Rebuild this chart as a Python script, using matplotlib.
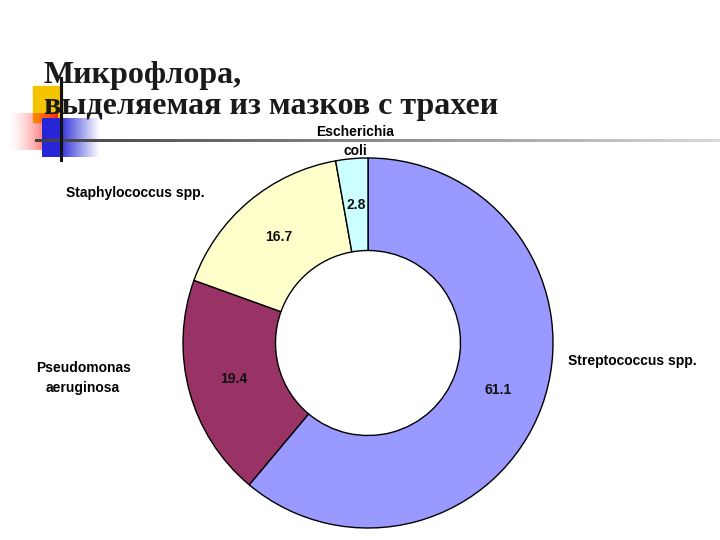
import numpy as np
import matplotlib.pyplot as plt

# chart data
names = ['Streptococcus spp.', 'Pseudomonas\naeruginosa', 'Staphylococcus spp.', 'Escherichia\ncoli']
values = [61.1, 19.4, 16.7, 2.8]
colors = ['#9999FF', '#993366', '#FFFFCC', '#CCFFFF']
title = 'Микрофлора,\nвыделяемая из мазков с трахеи'

W, H = 720, 540
fig = plt.figure(figsize=(7.2, 5.4), dpi=100)

# background axes in pixel coords for the slide decoration
bg = fig.add_axes([0, 0, 1, 1])
bg.set_xlim(0, W)
bg.set_ylim(H, 0)
bg.axis('off')

# yellow square
bg.add_patch(plt.Rectangle((33, 86), 29, 36, color='#F5C400', zorder=1))
# red gradient square (fades to the left)
red = np.ones((10, 64, 4))
red[..., 0] = 1.0
red[..., 1] = 0.1
red[..., 2] = 0.1
red[..., 3] = np.linspace(0, 0.95, 64)[None, :] ** 1.5
bg.imshow(red, extent=(8, 58, 150, 113), zorder=2, aspect='auto')
# blue gradient square (fades to the right)
blue = np.ones((10, 64, 4))
blue[..., 0] = 0.15
blue[..., 1] = 0.15
blue[..., 2] = 0.85
blue[..., 3] = np.clip(np.linspace(1.4, 0, 64), 0, 1)[None, :]
bg.imshow(blue, extent=(42, 100, 157, 118), zorder=3, aspect='auto')
# horizontal gradient rule
rule = np.zeros((1, 256, 4))
g = np.linspace(0.25, 0.85, 256)
rule[..., 0] = g
rule[..., 1] = g
rule[..., 2] = g
rule[..., 3] = 1
bg.imshow(rule, extent=(35, 720, 142, 139), zorder=4, aspect='auto')
# vertical black line
bg.plot([61, 61], [78, 160], color='#111111', lw=2.2, zorder=5)
bg.set_xlim(0, W)
bg.set_ylim(H, 0)

bg.text(44, 114, title, fontsize=23, fontweight='bold', family='Liberation Serif',
        color='#1a1a1a', linespacing=1.1, zorder=6)

# donut chart: centre (368, 343), radius 185 px
cx, cy, R = 368, 343, 185
ax = fig.add_axes([(cx - R) / W, (H - cy - R) / H, 2 * R / W, 2 * R / H])
wedges, _, autotexts = ax.pie(values, colors=colors, startangle=90, counterclock=False,
                              radius=1, autopct='%.1f', pctdistance=0.75,
                              wedgeprops=dict(width=0.5, edgecolor='black', linewidth=1),
                              textprops=dict(fontsize=10, fontweight='bold',
                                             family='Liberation Sans', color='#111111'))
ax.set_aspect('equal')
ax.set_xlim(-1, 1)
ax.set_ylim(-1, 1)

# category labels outside the ring
label_pos = [(1.43, -0.10), (-1.54, -0.19), (-1.26, 0.81), (-0.07, 1.09)]
for name, (x, y) in zip(names, label_pos):
    ax.text(x, y, name, ha='center', va='center', fontsize=10, fontweight='bold',
            family='Liberation Sans', linespacing=1.5, clip_on=False)

fig.savefig('out.png', dpi=100)
